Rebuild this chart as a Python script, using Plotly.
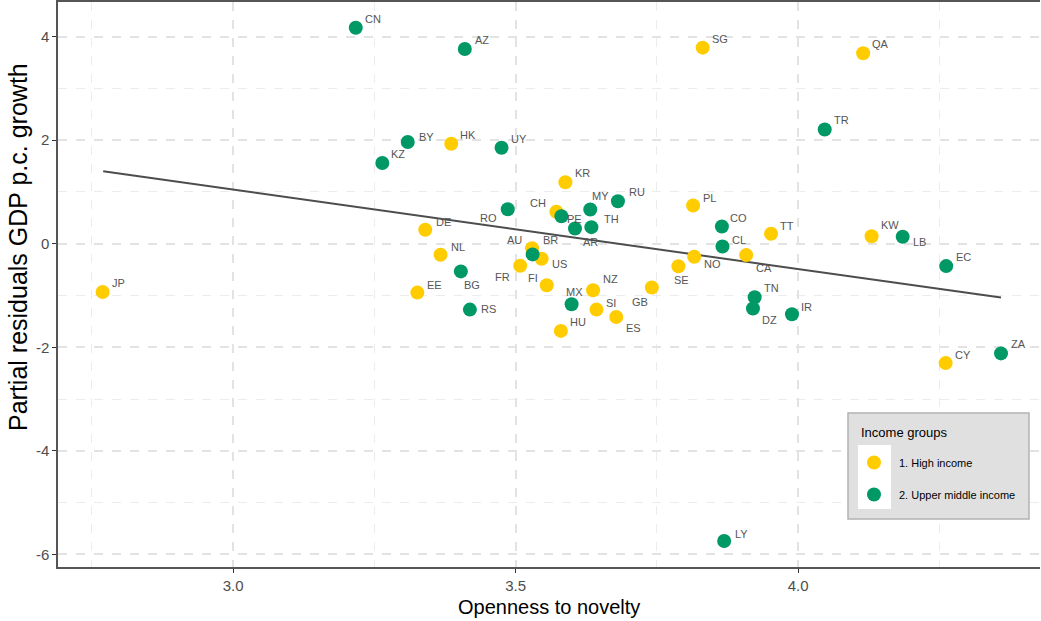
import plotly.graph_objects as go

# ---- data ----
high_codes = ["SG", "QA", "HK", "KR", "PL", "CH", "DE", "TT", "KW", "AU", "US", "NL", "NO",
              "CA", "SE", "FR", "JP", "EE", "FI", "GB", "NZ", "SI", "ES", "HU", "CY"]
high_x = [3.831, 4.115, 3.386, 3.588, 3.814, 3.572, 3.340, 3.952, 4.130, 3.529, 3.546, 3.367, 3.816,
          3.908, 3.788, 3.508, 2.769, 3.326, 3.555, 3.741, 3.637, 3.643, 3.678, 3.580, 4.261]
high_y = [3.788, 3.680, 1.933, 1.187, 0.738, 0.617, 0.270, 0.193, 0.146, -0.085, -0.289, -0.212, -0.250,
          -0.220, -0.434, -0.424, -0.933, -0.944, -0.803, -0.846, -0.900, -1.272, -1.414, -1.684, -2.306]

upper_codes = ["CN", "AZ", "TR", "BY", "UY", "KZ", "RU", "MY", "RO", "PE", "TH", "AR", "CO",
               "CL", "LB", "EC", "BR", "BG", "TN", "MX", "DZ", "IR", "RS", "ZA", "LY"]
upper_x = [3.217, 3.410, 4.047, 3.309, 3.475, 3.264, 3.681, 3.632, 3.486, 3.581, 3.634, 3.605, 3.865,
           3.866, 4.185, 4.262, 3.530, 3.403, 3.923, 3.599, 3.920, 3.989, 3.419, 4.359, 3.869]
upper_y = [4.173, 3.763, 2.208, 1.965, 1.855, 1.561, 0.821, 0.661, 0.667, 0.532, 0.320, 0.295, 0.333,
           -0.052, 0.135, -0.432, -0.206, -0.534, -1.035, -1.170, -1.252, -1.362, -1.272, -2.119, -5.742]

fit_x = [2.770, 4.359]
fit_y = [1.399, -1.040]

group_names = ["1. High income", "2. Upper middle income"]
legend_title = "Income groups"
x_title = "Openness to novelty"
y_title = "Partial residuals GDP p.c. growth"
x_ticks = [3.0, 3.5, 4.0]
x_ticktext = ["3.0", "3.5", "4.0"]
y_ticks = [-6, -4, -2, 0, 2, 4]
y_ticktext = ["-6", "-4", "-2", "0", "2", "4"]

# ---- label offsets (pixels, layout only) ----
default_off = (17, -9)
label_off = {
    "BY": (19, -5), "KZ": (16, -9), "RU": (19, -9), "MY": (10, -14), "CH": (-18, -9),
    "RO": (-19, 9), "PE": (13, 3), "TH": (20, -8), "AR": (16, 14), "AU": (-18, -8),
    "BR": (18, -14), "US": (18, 5), "FR": (-18, 11), "FI": (-14, -7), "BG": (11, 14),
    "RS": (19, -1), "MX": (3, -12), "NZ": (17, -11), "SI": (15, -7), "ES": (17, 11),
    "GB": (-12, 14), "SE": (3, 14), "NO": (18, 7), "CA": (18, 13), "CL": (17, -6),
    "DZ": (17, 11), "IR": (15, -7), "KW": (18, -11), "LB": (17, 5), "LY": (17, -7),
    "TT": (16, -8), "PL": (16, -8), "DE": (18, -8), "NL": (17, -8), "EE": (17, -8),
    "CY": (17, -8), "JP": (16, -9),
}

YELLOW = "#FFCC00"
GREEN = "#009966"
FONT = "Liberation Sans, Arial, sans-serif"

# plot-area geometry (pixels)
L, R, T, B = 58, 1040, 2, 567
W, H = 1041, 621
PW, PH = R - L, B - T


def px(xp):
    return (xp - L) / PW


def py(yp):
    return (B - yp) / PH


fig = go.Figure()
fig.add_trace(go.Scatter(x=fit_x, y=fit_y, mode="lines", line=dict(color="#4d4d4d", width=2),
                         showlegend=False, hoverinfo="skip"))
fig.add_trace(go.Scatter(x=high_x, y=high_y, mode="markers", name=group_names[0], legendgroup="a",
                         marker=dict(color=YELLOW, size=14), text=high_codes))
fig.add_trace(go.Scatter(x=upper_x, y=upper_y, mode="markers", name=group_names[1], legendgroup="b",
                         marker=dict(color=GREEN, size=14), text=upper_codes))

annotations = []
for codes, xs, ys in [(high_codes, high_x, high_y), (upper_codes, upper_x, upper_y)]:
    for c, xv, yv in zip(codes, xs, ys):
        ox, oy = label_off.get(c, default_off)
        annotations.append(dict(x=xv, y=yv, text=c, showarrow=True, arrowcolor="rgba(0,0,0,0)",
                                arrowwidth=0.1, ax=ox, ay=oy,
                                font=dict(size=11, color="#555555", family=FONT)))

# axis titles
annotations.append(dict(x=0.5, y=py(607), xref="paper", yref="paper", text=x_title, showarrow=False,
                        xanchor="center", yanchor="middle", font=dict(size=20, color="#000000", family=FONT)))
annotations.append(dict(x=px(18), y=py(247), xref="paper", yref="paper", text=y_title, showarrow=False,
                        textangle=-90, xanchor="center", yanchor="middle",
                        font=dict(size=25, color="#000000", family=FONT)))
# legend title
annotations.append(dict(x=px(859), y=py(432), xref="paper", yref="paper", text=legend_title, showarrow=False,
                        xanchor="left", yanchor="middle", font=dict(size=13, color="#000000", family=FONT)))

shapes = [
    dict(type="rect", xref="paper", yref="paper", x0=px(848), x1=px(1029), y0=py(519), y1=py(413),
         fillcolor="#e0e0e0", line=dict(color="#b3b3b3", width=1.5), layer="above"),
    dict(type="rect", xref="paper", yref="paper", x0=px(858), x1=px(891), y0=py(509), y1=py(445),
         fillcolor="#ffffff", line=dict(width=0), layer="above"),
]

fig.update_layout(
    width=W, height=H,
    margin=dict(l=L, r=W - R, t=T, b=H - B),
    paper_bgcolor="white", plot_bgcolor="white",
    font=dict(family=FONT, color="#000000"),
    annotations=annotations,
    shapes=shapes,
    showlegend=True,
    legend=dict(x=px(849), y=py(448), xanchor="left", yanchor="top",
                bgcolor="rgba(0,0,0,0)", borderwidth=0, itemwidth=40,
                font=dict(size=11, color="#000000"), tracegroupgap=13),
    xaxis=dict(range=[2.690, 4.428], tickvals=x_ticks, ticktext=x_ticktext, automargin=False,
               showgrid=True, gridcolor="#e3e3e3", gridwidth=1.5, griddash="dash",
               minor=dict(dtick=0.25, tick0=2.75, showgrid=True, gridcolor="#ececec", gridwidth=1, griddash="dash"),
               showline=True, linecolor="#555555", linewidth=1.5, mirror=True,
               ticks="outside", ticklen=4, tickcolor="#333333", tickwidth=1,
               tickfont=dict(size=15, color="#4d4d4d"), zeroline=False),
    yaxis=dict(range=[-6.245, 4.67], tickvals=y_ticks, ticktext=y_ticktext, automargin=False,
               showgrid=True, gridcolor="#e3e3e3", gridwidth=1.5, griddash="dash",
               minor=dict(dtick=2, tick0=-5, showgrid=True, gridcolor="#ececec", gridwidth=1, griddash="dash"),
               showline=True, linecolor="#555555", linewidth=1.5, mirror=False,
               ticks="outside", ticklen=4, tickcolor="#333333", tickwidth=1,
               tickfont=dict(size=15, color="#4d4d4d"), zeroline=False),
)

fig.write_html("out.html", config={"displayModeBar": False},
               post_script="document.body.style.margin='0px';")
